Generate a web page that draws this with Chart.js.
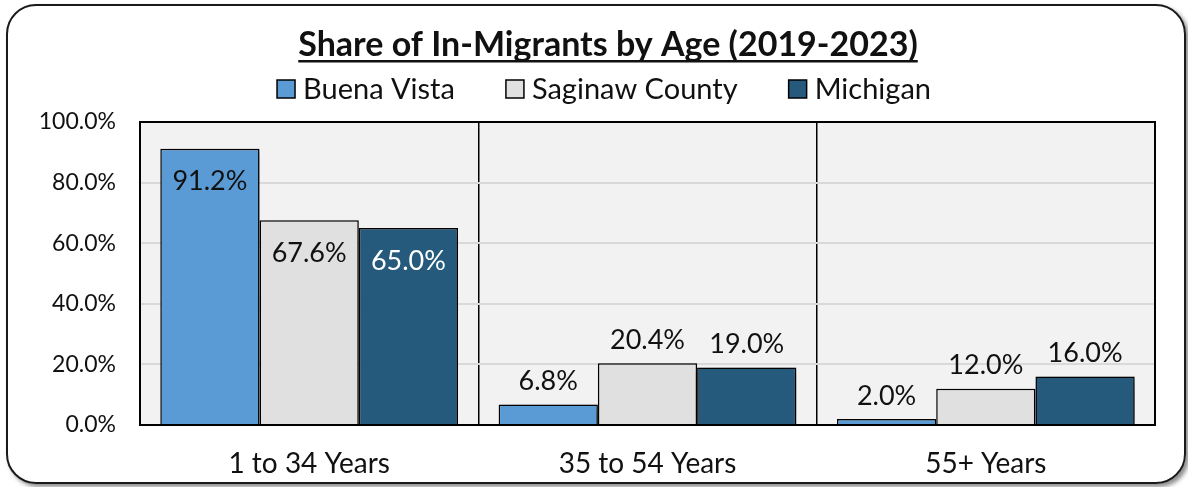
<!DOCTYPE html>
<html>
<head>
<meta charset="utf-8">
<script src="https://cdn.jsdelivr.net/npm/chart.js@4/dist/chart.umd.min.js"></script>
<style>
  html, body { margin: 0; padding: 0; background: #ffffff; }
  #wrap { position: relative; width: 1188px; height: 487px; overflow: hidden; }
  #card { position: absolute; left: 6px; top: 4px; width: 1176px; height: 476px; border: 2px solid #1a1a1a; border-radius: 30px; box-shadow: 3px 3px 4px rgba(0,0,0,0.45); pointer-events: none; }
  canvas { position: absolute; left: 0; top: 0; }
</style>
</head>
<body>
<div id="wrap">
  <canvas id="c" width="1188" height="487"></canvas>
  <div id="card"></div>
</div>
<script>
const titleText = "Share of In-Migrants by Age (2019-2023)";
const categories = ["1 to 34 Years", "35 to 54 Years", "55+ Years"];
const seriesNames = ["Buena Vista", "Saginaw County", "Michigan"];
const buenaVista = [91.2, 6.8, 2.0];
const saginawCounty = [67.6, 20.4, 12.0];
const michigan = [65.0, 19.0, 16.0];
const yTicks = [0, 20, 40, 60, 80, 100];

const colors = ["#5b9bd5", "#e0e0e0", "#255a7d"];
const labelColors = ["#111111", "#111111", "#ffffff"];
const FONT = "Lato, 'Open Sans', sans-serif";

const bgPlugin = {
  id: 'bg',
  beforeDraw(chart) {
    const {ctx, chartArea: a} = chart;
    ctx.save();
    ctx.fillStyle = '#f2f2f2';
    ctx.fillRect(a.left, a.top, a.right - a.left, a.bottom - a.top);
    ctx.restore();
  },
  beforeDatasetsDraw(chart) {
    const ctx = chart.ctx;
    ctx.save();
    ctx.shadowColor = 'rgba(0,0,0,0.45)';
    ctx.shadowBlur = 9;
    ctx.shadowOffsetX = 4;
    ctx.shadowOffsetY = 3;
  },
  afterDatasetsDraw(chart) {
    chart.ctx.restore();
    const {ctx, chartArea: a} = chart;
    ctx.save();
    ctx.strokeStyle = '#000';
    ctx.lineWidth = 2;
    ctx.strokeRect(a.left, a.top, a.right - a.left, a.bottom - a.top);
    ctx.restore();
    ctx.save();
    ctx.font = "27px " + FONT;
    ctx.textAlign = 'center';
    ctx.textBaseline = 'middle';
    chart.data.datasets.forEach((ds, di) => {
      const meta = chart.getDatasetMeta(di);
      meta.data.forEach((bar, i) => {
        const v = ds.data[i];
        const txt = v.toFixed(1) + '%';
        let y, col;
        if (i === 0) { y = bar.y + 33; col = labelColors[di]; }
        else { y = bar.y - 23; col = '#111111'; }
        ctx.fillStyle = col;
        ctx.fillText(txt, bar.x, y);
      });
    });
    ctx.restore();
  },
  afterDraw(chart) {
    const ctx = chart.ctx;
    ctx.save();
    ctx.font = "bold 34px " + FONT;
    ctx.fillStyle = '#111';
    ctx.textAlign = 'center';
    ctx.textBaseline = 'alphabetic';
    const tw = ctx.measureText(titleText).width;
    const cx = 608;
    ctx.fillText(titleText, cx, 56);
    ctx.fillRect(cx - tw / 2, 60, tw, 2.5);
    ctx.font = "29px " + FONT;
    ctx.textAlign = 'left';
    ctx.textBaseline = 'middle';
    const box = 18, gapBT = 8, gapItem = 51;
    const widths = seriesNames.map(n => ctx.measureText(n).width);
    let total = widths.reduce((s, w) => s + w + box + gapBT, 0) + gapItem * (seriesNames.length - 1);
    let x = 604 - total / 2;
    const ly = 89;
    seriesNames.forEach((n, i) => {
      ctx.fillStyle = colors[i];
      ctx.fillRect(x, ly - box / 2, box, box);
      ctx.strokeStyle = '#000';
      ctx.lineWidth = 1.5;
      ctx.strokeRect(x, ly - box / 2, box, box);
      ctx.fillStyle = '#111';
      ctx.fillText(n, x + box + gapBT, ly + 1);
      x += box + gapBT + widths[i] + gapItem;
    });
    ctx.restore();
  }
};

new Chart(document.getElementById('c'), {
  type: 'bar',
  data: {
    labels: categories,
    datasets: [buenaVista, saginawCounty, michigan].map((d, i) => ({
      label: seriesNames[i],
      data: d,
      backgroundColor: colors[i],
      borderColor: '#000',
      borderWidth: 1.5,
      borderSkipped: 'bottom',
      categoryPercentage: 0.88,
      barPercentage: 1.0
    }))
  },
  options: {
    responsive: false,
    animation: false,
    devicePixelRatio: 1,
    layout: { padding: { top: 122, right: 33, left: 0, bottom: 0 } },
    plugins: { legend: { display: false }, title: { display: false }, tooltip: { enabled: false } },
    scales: {
      x: {
        offset: true,
        grid: { display: true, color: '#000', lineWidth: 1.5, drawTicks: false, offset: true },
        border: { display: false },
        ticks: { color: '#111', font: { family: FONT, size: 28 }, padding: 22 },
        afterFit(s) { s.height = 62; }
      },
      y: {
        min: 0, max: 100,
        afterBuildTicks(s) { s.ticks = yTicks.map(v => ({ value: v })); },
        grid: { color: '#d9d9d9', lineWidth: 2, drawTicks: false },
        border: { display: false },
        ticks: { color: '#111', font: { family: FONT, size: 23 }, padding: 24,
                 callback: v => Number(v).toFixed(1) + '%' },
        afterFit(s) { s.width = 140; }
      }
    }
  },
  plugins: [bgPlugin]
});
</script>
</body>
</html>
